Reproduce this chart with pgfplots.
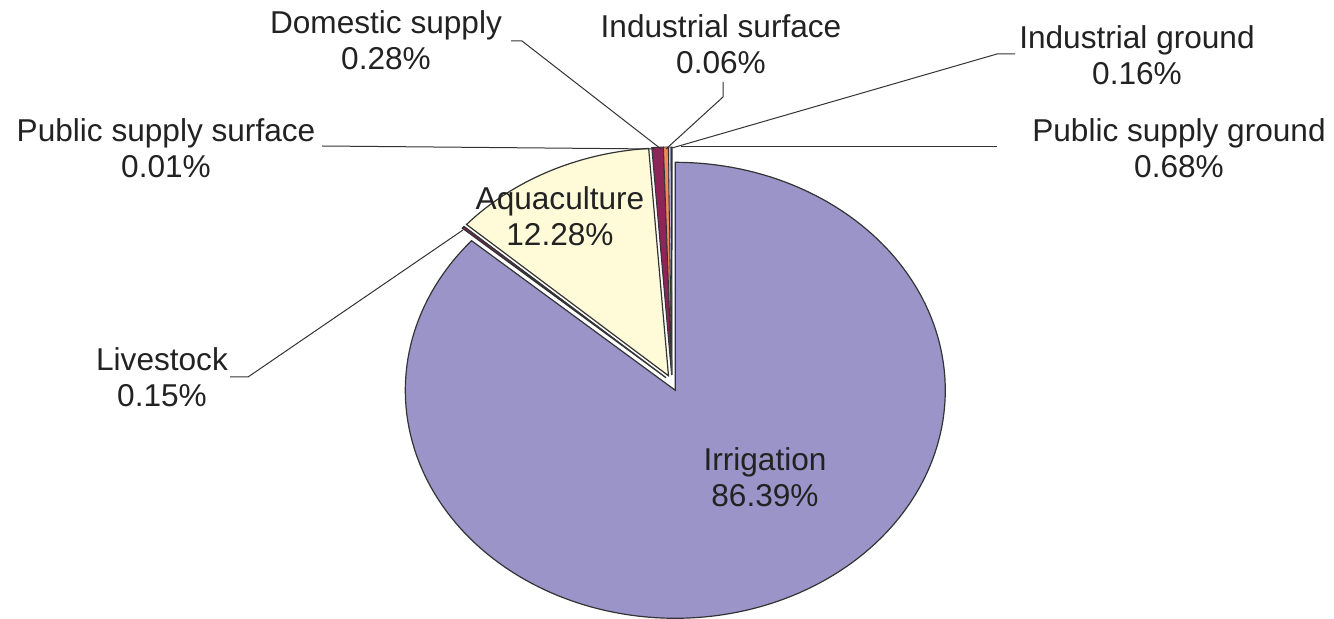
\documentclass[border=0pt]{standalone}
\usepackage{pgfplots}
\pgfplotsset{compat=1.18}
\usepackage{fontspec}
\setmainfont{Liberation Sans}
\definecolor{irr}{HTML}{9B94C8}
\definecolor{aqua}{HTML}{FFFBD8}
\definecolor{maroon}{HTML}{8E2457}
\definecolor{orng}{HTML}{F08A5A}
\definecolor{lav}{HTML}{C8C8F0}
\definecolor{lav2}{HTML}{D8E8F8}
\definecolor{txt}{HTML}{222222}
\definecolor{edge}{HTML}{333333}
\tikzset{lbl/.style={font=\fontsize{15.8}{18}\selectfont, text=txt, align=center, inner sep=0pt}}
\begin{document}
\begin{tikzpicture}
\begin{axis}[
  scale only axis, width=667pt, height=309.5pt,
  xmin=0, xmax=1334, ymin=0, ymax=619, y dir=reverse,
  axis line style={draw=none}, ticks=none, clip=false,
]
% slices: percentages -> angles (3.6 deg per %), clockwise from 90 deg
% Irrigation 86.39
\addplot[fill=irr, draw=edge, line width=0.6pt, domain=-221.004:90, samples=180, variable=\t]
  ({675.3+270*cos(\t)}, {390.3-228*sin(\t)}) -- (axis cs:675.3,390.3) -- cycle;
% Livestock 0.15
\addplot[fill=maroon, draw=edge, line width=0.6pt, domain=138.456:138.996, samples=3, variable=\t]
  ({666.0+270*cos(\t)}, {377.7-228*sin(\t)}) -- (axis cs:666.0,377.7) -- cycle;
% Public supply surface 0.01
\addplot[fill=lav, draw=edge, line width=0.4pt, domain=138.42:138.456, samples=2, variable=\t]
  ({666.0+270*cos(\t)}, {377.7-228*sin(\t)}) -- (axis cs:666.0,377.7) -- cycle;
% Aquaculture 12.28
\addplot[fill=aqua, draw=edge, line width=0.6pt, domain=94.212:138.42, samples=40, variable=\t]
  ({668.5+270*cos(\t)}, {375.8-228*sin(\t)}) -- (axis cs:668.5,375.8) -- cycle;
% Public supply ground 0.68
\addplot[fill=maroon, draw=edge, line width=0.5pt, domain=91.764:94.212, samples=4, variable=\t]
  ({671.6+270*cos(\t)}, {375.0-228*sin(\t)}) -- (axis cs:671.6,375.0) -- cycle;
% Domestic supply 0.28
\addplot[fill=orng, draw=edge, line width=0.4pt, domain=90.756:91.764, samples=3, variable=\t]
  ({671.8+270*cos(\t)}, {375.0-228*sin(\t)}) -- (axis cs:671.8,375.0) -- cycle;
% Industrial ground 0.16
\addplot[fill=lav, draw=edge, line width=0.4pt, domain=90.18:90.756, samples=2, variable=\t]
  ({671.9+270*cos(\t)}, {375.0-228*sin(\t)}) -- (axis cs:671.9,375.0) -- cycle;
% Industrial surface 0.06
\addplot[fill=lav2, draw=edge, line width=0.4pt, domain=89.964:90.18, samples=2, variable=\t]
  ({672.0+270*cos(\t)}, {375.0-228*sin(\t)}) -- (axis cs:672.0,375.0) -- cycle;

% leader lines
\addplot[edge, line width=0.5pt] coordinates {(511,41) (522,41) (661,149)};
\addplot[edge, line width=0.5pt] coordinates {(723,82) (723,97) (666,149)};
\addplot[edge, line width=0.5pt] coordinates {(1015,54) (997,54) (672,148)};
\addplot[edge, line width=0.5pt] coordinates {(997,147) (681,147)};
\addplot[edge, line width=0.5pt] coordinates {(322,146) (655,149)};
\addplot[edge, line width=0.5pt] coordinates {(230,377) (248,377) (463,230)};

% labels
\node[lbl] at (axis cs:386,40) {Domestic supply\\0.28\%};
\node[lbl] at (axis cs:721,44) {Industrial surface\\0.06\%};
\node[lbl] at (axis cs:1137,55) {Industrial ground\\0.16\%};
\node[lbl] at (axis cs:1179,148) {Public supply ground\\0.68\%};
\node[lbl] at (axis cs:166,148) {Public supply surface\\0.01\%};
\node[lbl] at (axis cs:560,216) {Aquaculture\\12.28\%};
\node[lbl] at (axis cs:162,377) {Livestock\\0.15\%};
\node[lbl] at (axis cs:765,477) {Irrigation\\86.39\%};
\end{axis}
\end{tikzpicture}
\end{document}
